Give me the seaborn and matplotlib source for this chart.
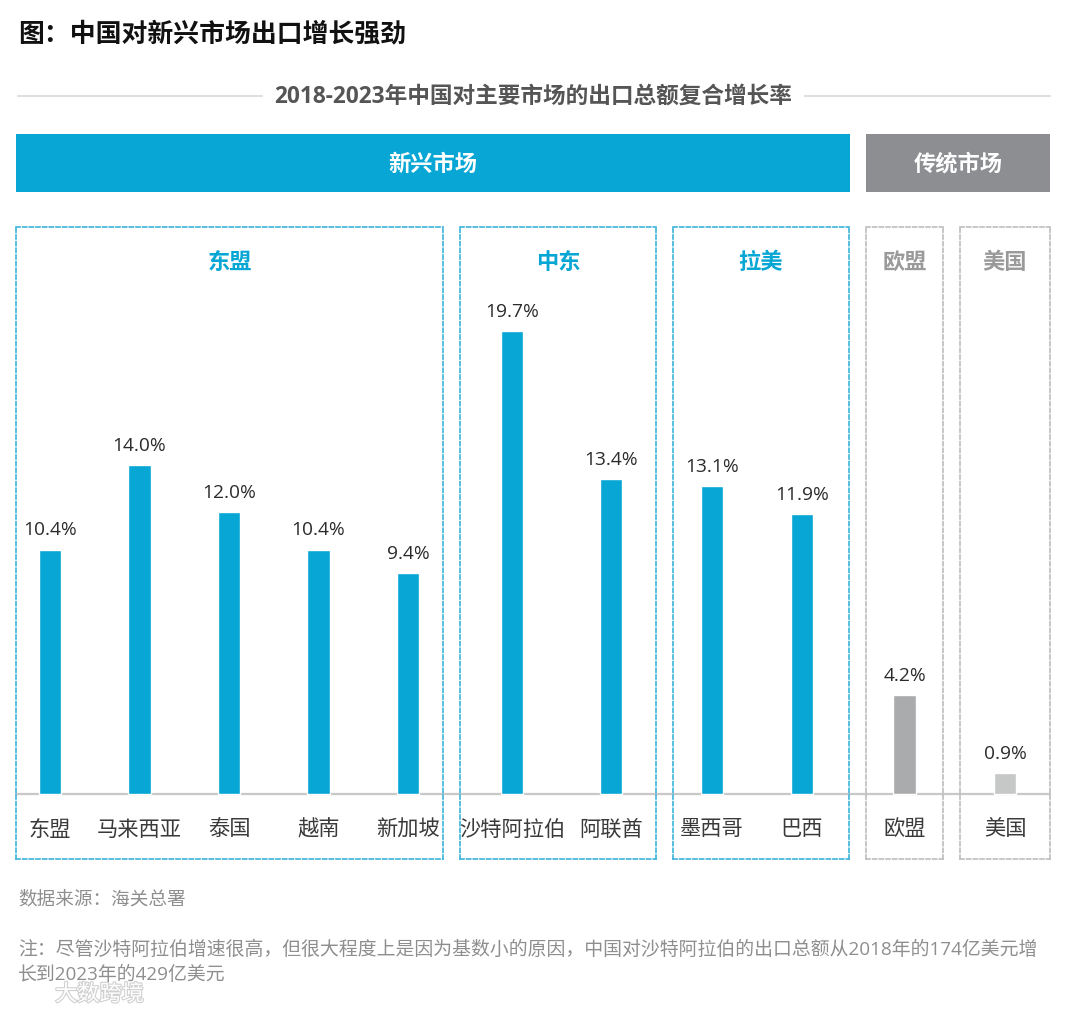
import matplotlib
matplotlib.use("Agg")
import matplotlib.pyplot as plt
import matplotlib.patheffects as pe
import matplotlib.transforms as mtrans
from matplotlib.patches import Rectangle
import seaborn as sns

# ---------------- data ----------------
group_names = ["东盟", "中东", "拉美", "欧盟", "美国"]
asean_cats = ["东盟", "马来西亚", "泰国", "越南", "新加坡"]
asean_vals = [10.4, 14.0, 12.0, 10.4, 9.4]
mideast_cats = ["沙特阿拉伯", "阿联酋"]
mideast_vals = [19.7, 13.4]
latam_cats = ["墨西哥", "巴西"]
latam_vals = [13.1, 11.9]
eu_cats = ["欧盟"]
eu_vals = [4.2]
us_cats = ["美国"]
us_vals = [0.9]

title = "图：中国对新兴市场出口增长强劲"
subtitle = "2018-2023年中国对主要市场的出口总额复合增长率"
header_emerging = "新兴市场"
header_traditional = "传统市场"
source = "数据来源：海关总署"
note_l1 = "注：尽管沙特阿拉伯增速很高，但很大程度上是因为基数小的原因，中国对沙特阿拉伯的出口总额从2018年的174亿美元增"
note_l2 = "长到2023年的429亿美元"

# ---------------- style ----------------
sns.set_theme(style="white")
plt.rcParams["font.family"] = ["Open Sans", "Noto Sans CJK SC", "DejaVu Sans"]

BLUE = "#07A6D4"
BLUE_BOX = "#3DB3DA"
GREY_HDR = "#8C8E91"
GREY_BOX = "#BDBDBD"
EU_COL = "#A9ABAC"
US_COL = "#C6C7C7"

W, H = 1080, 1012
fig = plt.figure(figsize=(W / 100, H / 100), dpi=100)
fig.patch.set_facecolor("white")

# background axes in pixel coordinates for decorations
bg = fig.add_axes([0, 0, 1, 1])
bg.set_xlim(0, W)
bg.set_ylim(H, 0)
bg.axis("off")

bg.text(18, 34, title, fontsize=18.6, fontweight="bold", color="#111111",
        ha="left", va="center", family=["Noto Sans CJK SC", "DejaVu Sans"])

bg.text(533, 97, subtitle, fontsize=16.3, fontweight="bold", color="#555555",
        ha="center", va="center")
bg.plot([18, 262], [97, 97], color="#DEDEDE", lw=1.5)
bg.plot([805, 1050], [97, 97], color="#DEDEDE", lw=1.5)

bg.add_patch(Rectangle((16, 135), 834, 58, color=BLUE, lw=0))
bg.add_patch(Rectangle((866, 135), 184, 58, color=GREY_HDR, lw=0))
bg.text(433, 165, header_emerging, fontsize=16, fontweight="bold", color="white",
        ha="center", va="center")
bg.text(958, 165, header_traditional, fontsize=16, fontweight="bold", color="white",
        ha="center", va="center")

# baseline
bg.plot([16, 1050], [795, 795], color="#C8C8C8", lw=1.6, zorder=1)

bg.text(18, 899, source, fontsize=13.4, color="#8E8E8E", ha="left", va="center")
bg.text(18, 950, note_l1, fontsize=13.6, color="#8E8E8E", ha="left", va="center")
bg.text(18, 975, note_l2, fontsize=13.6, color="#8E8E8E", ha="left", va="center")
bg.text(55, 996, "大数跨境", fontsize=16, color="white", ha="left", va="center",
        path_effects=[pe.withStroke(linewidth=1.6, foreground="#D0D0D0")])

# ---------------- bar panels ----------------
PX_PER_UNIT = 23.5
BASE_Y = 795
BOX_TOP, BOX_BOT = 228, 860
ylim = (-(BOX_BOT - BASE_Y) / PX_PER_UNIT, (BASE_Y - BOX_TOP) / PX_PER_UNIT)

panels = [
    # cats, vals, box x0, x1, first centre, spacing, colours, box colour, label colour
    (asean_cats, asean_vals, 16, 443, 50, 89.5, [BLUE] * 5, BLUE_BOX, BLUE),
    (mideast_cats, mideast_vals, 460, 656, 512, 99.0, [BLUE] * 2, BLUE_BOX, BLUE),
    (latam_cats, latam_vals, 673, 849, 712, 90.0, [BLUE] * 2, BLUE_BOX, BLUE),
    (eu_cats, eu_vals, 866, 943, 904.5, 77.0, [EU_COL], GREY_BOX, "#9A9A9A"),
    (us_cats, us_vals, 960, 1050, 1005, 90.0, [US_COL], GREY_BOX, "#9A9A9A"),
]

BAR_PX = 22.5
for gname, (cats, vals, x0, x1, c0, sp, cols, boxc, labc) in zip(group_names, panels):
    ax = fig.add_axes([x0 / W, 1 - BOX_BOT / H, (x1 - x0) / W, (BOX_BOT - BOX_TOP) / H])
    ax.patch.set_alpha(0)
    sns.barplot(x=cats, y=vals, hue=cats, palette=cols, legend=False, ax=ax,
                width=BAR_PX / sp, saturation=1, zorder=3)
    ax.set_xlim(-(c0 - x0) / sp, (x1 - c0) / sp)
    ax.set_ylim(*ylim)
    ax.set_xlabel("")
    ax.set_ylabel("")
    ax.set_xticks([])
    ax.set_yticks([])
    for s in ax.spines.values():
        s.set_visible(True)
        s.set_color(boxc)
        s.set_linewidth(1.2)
        s.set_linestyle((0, (2.4, 1.6)))
    for cont in ax.containers:
        ax.bar_label(cont, fmt="%.1f%%", padding=8, fontsize=13.8, color="#2B2B2B")
    for i, c in enumerate(cats):
        ax.text(i, -(830 - BASE_Y) / PX_PER_UNIT, c, fontsize=15.3, color="#3A3A3A",
                ha="center", va="center")
    ax.text(0.5, (BASE_Y - 263) / PX_PER_UNIT, gname,
            transform=mtrans.blended_transform_factory(ax.transAxes, ax.transData),
            fontsize=16, fontweight="bold", color=labc, ha="center", va="center")

fig.savefig("out.png", dpi=100, facecolor="white")
